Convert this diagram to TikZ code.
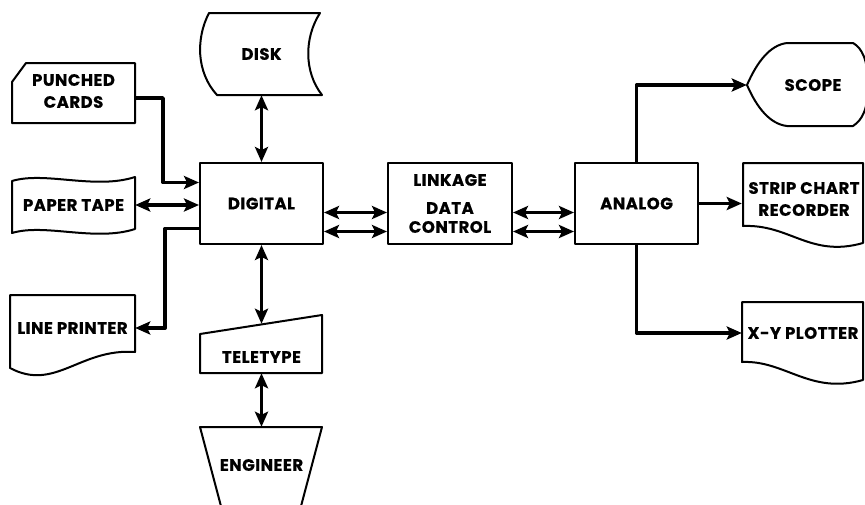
\documentclass[tikz,border=0pt]{standalone}
\usepackage{fontspec}
\newfontfamily\lblfont{Poppins}[LetterSpace=3,BoldFeatures={FakeBold=0.6}]
\newcommand\lbl{\lblfont\bfseries\fontsize{16.5}{22}\selectfont}
\usetikzlibrary{arrows.meta}
\begin{document}
\begin{tikzpicture}[x=1pt,y=-1pt,line join=round]
\useasboundingbox (0,0) rectangle (865,504);
\tikzset{
  box/.style={draw,line width=2pt,minimum width=123pt,minimum height=81pt,inner sep=0pt,align=center,font=\lbl},
  ghost/.style={inner sep=0pt,align=center,font=\lbl},
  outline/.style={line width=2pt},
  tip/.tip={Stealth[length=15pt,width=13pt,inset=3pt]},
  arr/.style={line width=3.6pt,-tip},
  dbl/.style={line width=3.6pt,tip-tip},
}
% outlines of special shapes
\draw[outline] (209,13) -- (320,13) .. controls (304,38) and (304,72) .. (322,95) -- (217,95) .. controls (196,72) and (196,38) .. (209,13) -- cycle;
\draw[outline] (12,82) -- (26,63) -- (135,63) -- (135,123) -- (12,123) -- cycle;
\draw[outline] (12,181) .. controls (45,171) and (95,190) .. (135,177) -- (135,229) .. controls (95,242) and (45,223) .. (12,233) -- cycle;
\draw[outline] (10,295) -- (135,295) -- (135,352) .. controls (80,348) and (55,392) .. (10,368) -- cycle;
\draw[outline] (200,334) -- (322,315) -- (322,373) -- (200,373) -- cycle;
\draw[outline] (200,427) -- (322,427) -- (300,510) -- (222,510) -- cycle;
\draw[outline] (747,85) .. controls (757,62) and (770,45) .. (787,43) -- (853,43) .. controls (862,48) and (868,60) .. (868,85) .. controls (868,110) and (862,120) .. (853,126) -- (787,126) .. controls (770,124) and (757,108) .. (747,85) -- cycle;
\draw[outline] (743,163) -- (863,163) -- (863,243) .. controls (810,258) and (790,224) .. (743,226) -- cycle;
\draw[outline] (742,302) -- (863,302) -- (863,380) .. controls (810,395) and (785,360) .. (742,362) -- cycle;
% nodes
\node[box] (digital) at (261.5,203.5) {DIGITAL};
\node[box,minimum width=124pt] (linkage) at (450,203.5) {LINKAGE\\[6pt]DATA\\[-3pt]CONTROL};
\node[box] (analog) at (636.5,203.5) {ANALOG};
\node[ghost,minimum width=123pt,minimum height=82pt] (disk) at (261.5,54) {DISK};
\node[ghost,minimum width=123pt,minimum height=60pt] (cards) at (73.5,91) {PUNCHED\\CARDS};
\node[ghost,minimum width=123pt,minimum height=50pt] (tape) at (73.5,205) {PAPER TAPE};
\node[ghost,minimum width=125pt,minimum height=66pt] (printer) at (72.5,328) {LINE PRINTER};
\node[ghost,minimum width=122pt,minimum height=49pt] (teletype) at (261.5,348.5) {};
\node[ghost] (teletypetext) at (261.5,357) {TELETYPE};
\node[ghost,minimum width=122pt,minimum height=76pt] (engineer) at (261.5,465) {ENGINEER};
\node[ghost,minimum width=132pt,minimum height=82pt] (scope) at (813,85) {SCOPE};
\node[ghost,minimum width=124pt,minimum height=60pt] (strip) at (804,199) {STRIP CHART\\RECORDER};
\node[ghost,minimum width=122pt,minimum height=60pt] (xy) at (803,333) {X-Y PLOTTER};
% connectors
\draw[dbl] (disk.south) -- (digital.north);
\draw[arr] ([yshift=-7pt]cards.east) -| ([xshift=-36pt,yshift=21pt]digital.west) -- ([yshift=21pt]digital.west);
\draw[dbl] (tape.east) -- (tape.east -| digital.west);
\draw[arr] ([yshift=-25pt]digital.west) -| ([xshift=30pt]printer.east) -- (printer.east);
\draw[dbl] ([yshift=-9pt]digital.east) -- ([yshift=-9pt]linkage.west);
\draw[dbl] ([yshift=-28pt]digital.east) -- ([yshift=-28pt]linkage.west);
\draw[dbl] ([yshift=-9pt]linkage.east) -- ([yshift=-9pt]analog.west);
\draw[dbl] ([yshift=-28pt]linkage.east) -- ([yshift=-28pt]analog.west);
\draw[arr] (analog.north) |- (scope.west);
\draw[arr] (analog.east) -- (analog.east -| strip.west);
\draw[arr] (analog.south) |- (xy.west);
\draw[dbl] (digital.south) -- (teletype.north);
\draw[dbl] (teletype.south) -- (engineer.north);
\end{tikzpicture}
\end{document}
